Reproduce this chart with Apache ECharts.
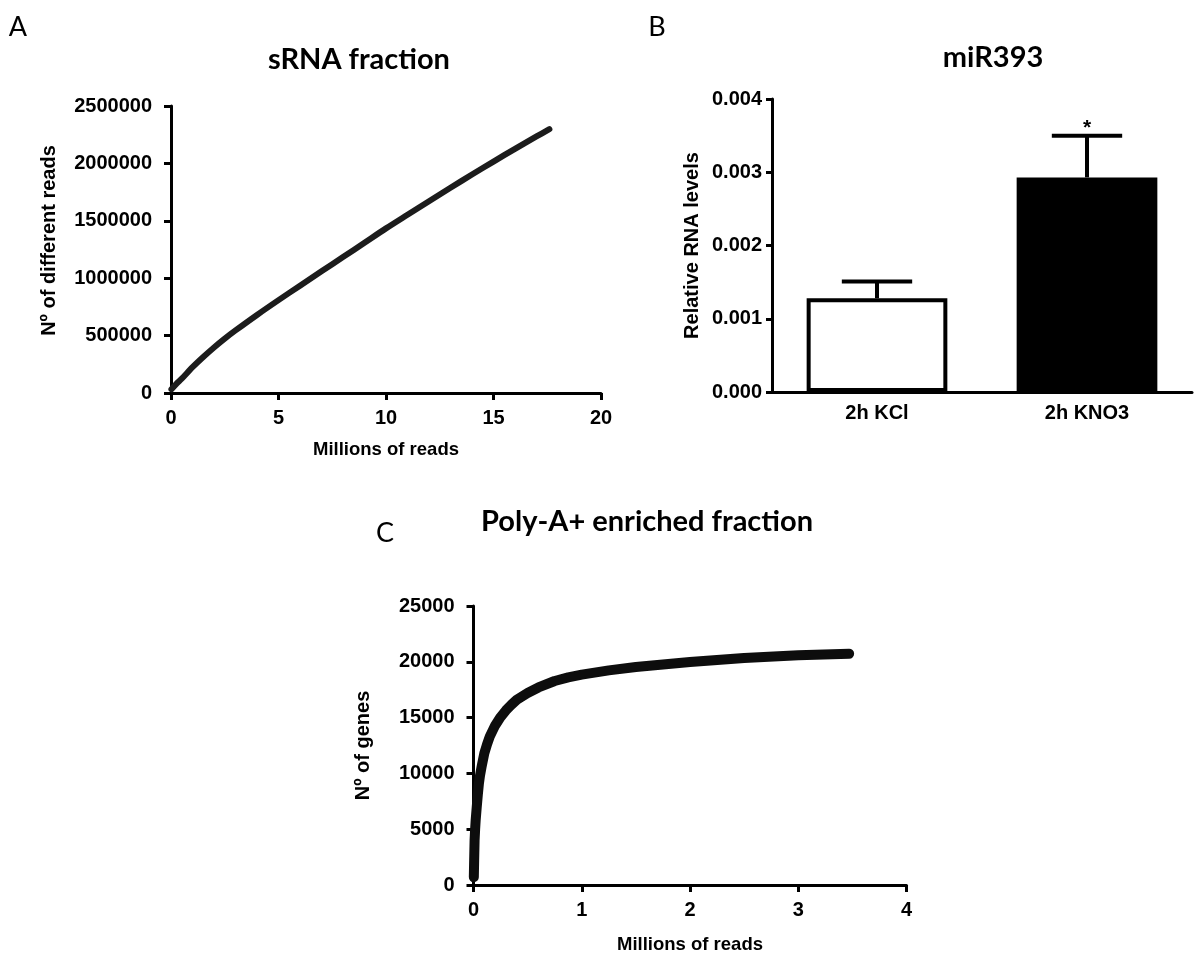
<!DOCTYPE html>
<html>
<head>
<meta charset="utf-8">
<script src="https://cdn.jsdelivr.net/npm/echarts@6/dist/echarts.min.js"></script>
<style>
html,body{margin:0;padding:0;background:#fff;}
#chart{width:1200px;height:966px;}
</style>
</head>
<body>
<div id="chart"></div>
<script>
// ---- Panel A: sRNA fraction (millions of reads vs number of different reads)
const sRNA_x = [0.02, 0.25, 0.5, 1, 1.5, 2, 2.5, 3, 4, 5, 6, 7, 8, 9, 10, 11, 12, 13, 14, 15, 16, 17, 17.6];
const sRNA_y = [32000, 80000, 125000, 225000, 314000, 397000, 474000, 545000, 680000, 809000, 935000, 1060000, 1184000, 1309000, 1434000, 1553000, 1671000, 1788000, 1903000, 2016000, 2127000, 2235000, 2298000];

// ---- Panel B: miR393 relative RNA levels
const barCategories = ['2h KCl', '2h KNO3'];
const barMeans = [0.00128, 0.00293];
const barErrors = [0.00023, 0.00057];
const barSignif = ['', '*'];

// ---- Panel C: Poly-A+ enriched fraction (millions of reads vs number of genes)
const polyA_x = [0.003, 0.006, 0.01, 0.015, 0.02, 0.03, 0.04, 0.05, 0.06, 0.075, 0.1, 0.125, 0.15, 0.2, 0.25, 0.3, 0.35, 0.4, 0.5, 0.6, 0.75, 0.875, 1, 1.25, 1.5, 2, 2.5, 3, 3.47];
const polyA_y = [700, 2200, 4000, 5000, 5800, 7000, 8100, 9100, 9800, 10600, 11800, 12600, 13300, 14300, 15050, 15650, 16150, 16600, 17200, 17700, 18280, 18600, 18850, 19230, 19530, 19980, 20340, 20580, 20720];

// ---- Axis ranges / tick labels
const axisA = { xMax: 20, xStep: 5, yMax: 2500000, yStep: 500000 };
const axisB = { yMax: 0.004, yStep: 0.001 };
const axisC = { xMax: 4, xStep: 1, yMax: 25000, yStep: 5000 };

const panelLetters = ['A', 'B', 'C'];
const panelTitles = ['sRNA fraction', 'miR393', 'Poly-A+ enriched fraction'];

const AX = 'Liberation Sans, Arial, sans-serif';
const TT = 'Lato, Calibri, sans-serif';

const lineStyleAxis = { color: '#000', width: 3 };
const tickStyle = { show: true, length: 7, lineStyle: { color: '#000', width: 3 } };
const labelStyle = { color: '#000', fontFamily: AX, fontWeight: 'bold', fontSize: 20 };
const nameStyleX = { color: '#000', fontFamily: AX, fontWeight: 'bold', fontSize: 18.5 };
const nameStyleY = { color: '#000', fontFamily: AX, fontWeight: 'bold', fontSize: 20 };
const plain = v => String(v);

const chart = echarts.init(document.getElementById('chart'), null, { renderer: 'canvas' });

const option = {
  backgroundColor: '#fff',
  animation: false,
  grid: [
    { left: 171, top: 106, width: 430, height: 287, outerBoundsMode: 'none', containLabel: false },
    { left: 772, top: 99, width: 420, height: 293, outerBoundsMode: 'none', containLabel: false },
    { left: 473.5, top: 606, width: 433, height: 279, outerBoundsMode: 'none', containLabel: false }
  ],
  xAxis: [
    {
      gridIndex: 0, type: 'value', min: 0, max: axisA.xMax, interval: axisA.xStep,
      name: 'Millions of reads', nameLocation: 'middle', nameGap: 47, nameTextStyle: nameStyleX,
      axisLine: { show: true, onZero: false, lineStyle: lineStyleAxis },
      axisTick: tickStyle, axisLabel: Object.assign({ margin: 15, formatter: plain }, labelStyle),
      splitLine: { show: false }
    },
    {
      gridIndex: 1, type: 'category', data: barCategories,
      axisLine: { show: true, onZero: false, lineStyle: lineStyleAxis },
      axisTick: { show: false }, axisLabel: Object.assign({ margin: 11 }, labelStyle),
      splitLine: { show: false }
    },
    {
      gridIndex: 2, type: 'value', min: 0, max: axisC.xMax, interval: axisC.xStep,
      name: 'Millions of reads', nameLocation: 'middle', nameGap: 50, nameTextStyle: nameStyleX,
      axisLine: { show: true, onZero: false, lineStyle: lineStyleAxis },
      axisTick: tickStyle, axisLabel: Object.assign({ margin: 15, formatter: plain }, labelStyle),
      splitLine: { show: false }
    }
  ],
  yAxis: [
    {
      gridIndex: 0, type: 'value', min: 0, max: axisA.yMax, interval: axisA.yStep,
      name: 'Nº of different reads', nameLocation: 'middle', nameGap: 112,
      nameTextStyle: Object.assign({ padding: [0, 0, 0, 18] }, nameStyleY),
      axisLine: { show: true, onZero: false, lineStyle: lineStyleAxis },
      axisTick: tickStyle, axisLabel: Object.assign({ margin: 19, formatter: plain }, labelStyle),
      splitLine: { show: false }
    },
    {
      gridIndex: 1, type: 'value', min: 0, max: axisB.yMax, interval: axisB.yStep,
      name: 'Relative RNA levels', nameLocation: 'middle', nameGap: 70, nameTextStyle: nameStyleY,
      axisLine: { show: true, onZero: false, lineStyle: lineStyleAxis },
      axisTick: { show: true, length: 6, lineStyle: { color: '#000', width: 3 } },
      axisLabel: Object.assign({ margin: 10, formatter: v => v.toFixed(3) }, labelStyle),
      splitLine: { show: false }
    },
    {
      gridIndex: 2, type: 'value', min: 0, max: axisC.yMax, interval: axisC.yStep,
      name: 'Nº of genes', nameLocation: 'middle', nameGap: 100, nameTextStyle: nameStyleY,
      axisLine: { show: true, onZero: false, lineStyle: lineStyleAxis },
      axisTick: tickStyle, axisLabel: Object.assign({ margin: 19, formatter: plain }, labelStyle),
      splitLine: { show: false }
    }
  ],
  series: [
    {
      type: 'line', xAxisIndex: 0, yAxisIndex: 0,
      data: sRNA_x.map((x, i) => [x, sRNA_y[i]]),
      showSymbol: false, smooth: 0.3,
      lineStyle: { color: '#1c1c1c', width: 6, cap: 'round', join: 'round' }
    },
    {
      type: 'bar', xAxisIndex: 1, yAxisIndex: 1, barWidth: '67%',
      data: barMeans.map((v, i) => ({
        value: v,
        itemStyle: i === 0
          ? { color: '#fff', borderColor: '#000', borderWidth: 4 }
          : { color: '#000', borderColor: '#000', borderWidth: 2 }
      }))
    },
    {
      type: 'custom', xAxisIndex: 1, yAxisIndex: 1, z: 5,
      data: barCategories.map((c, i) => [i, barMeans[i], barErrors[i]]),
      renderItem: function (params, api) {
        const i = api.value(0);
        const mean = api.value(1);
        const err = api.value(2);
        const base = api.coord([i, mean]);
        const top = api.coord([i, mean + err]);
        const band = api.size([1, 0])[0];
        const half = band * 0.67 / 4;
        const children = [
          { type: 'line', shape: { x1: base[0], y1: base[1], x2: top[0], y2: top[1] },
            style: { stroke: '#000', lineWidth: 4 } },
          { type: 'line', shape: { x1: top[0] - half, y1: top[1], x2: top[0] + half, y2: top[1] },
            style: { stroke: '#000', lineWidth: 4 } }
        ];
        const sig = barSignif[params.dataIndex];
        if (sig) {
          children.push({ type: 'text', x: top[0], y: top[1] - 7,
            style: { text: sig, fill: '#000', font: 'bold 21px ' + AX, textAlign: 'center', textVerticalAlign: 'middle' } });
        }
        return { type: 'group', children: children };
      }
    },
    {
      type: 'line', xAxisIndex: 2, yAxisIndex: 2,
      data: polyA_x.map((x, i) => [x, polyA_y[i]]),
      showSymbol: false, smooth: false,
      lineStyle: { color: '#0d0d0d', width: 10, cap: 'round', join: 'round' }
    }
  ],
  graphic: [
    { type: 'text', x: 18, y: 27, style: { text: panelLetters[0], fill: '#000', font: '27px ' + TT, textAlign: 'center', textVerticalAlign: 'middle' } },
    { type: 'text', x: 657, y: 27, style: { text: panelLetters[1], fill: '#000', font: '27px ' + TT, textAlign: 'center', textVerticalAlign: 'middle' } },
    { type: 'text', x: 385, y: 533, style: { text: panelLetters[2], fill: '#000', font: '27px ' + TT, textAlign: 'center', textVerticalAlign: 'middle' } },
    { type: 'text', x: 359, y: 60, style: { text: panelTitles[0], fill: '#000', font: 'bold 29px ' + TT, textAlign: 'center', textVerticalAlign: 'middle' } },
    { type: 'text', x: 993, y: 58, style: { text: panelTitles[1], fill: '#000', font: 'bold 29px ' + TT, textAlign: 'center', textVerticalAlign: 'middle' } },
    { type: 'text', x: 647, y: 522, style: { text: panelTitles[2], fill: '#000', font: 'bold 29px ' + TT, textAlign: 'center', textVerticalAlign: 'middle' } }
  ]
};
chart.setOption(option);
</script>
</body>
</html>
